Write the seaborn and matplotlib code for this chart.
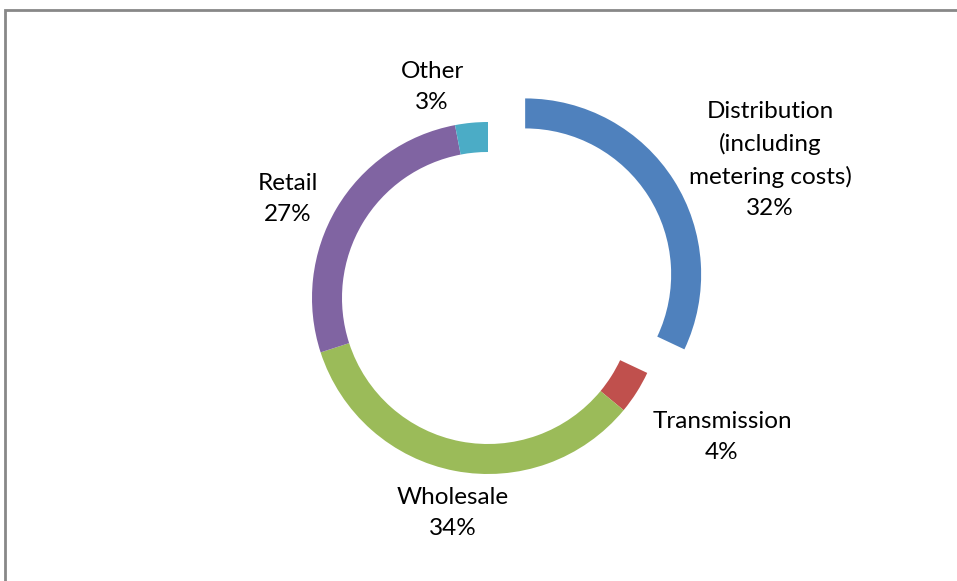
import matplotlib
matplotlib.use("Agg")
import matplotlib.pyplot as plt
import seaborn as sns

# Cost components of the bill, in percent
categories = ["Distribution\n(including\nmetering costs)", "Transmission", "Wholesale", "Retail", "Other"]
shares = [32, 4, 34, 27, 3]
colors = ["#4F81BD", "#C0504D", "#9BBB59", "#8064A2", "#4BACC6"]

sns.set_theme(style="white")
plt.rcParams["font.family"] = ["Lato", "DejaVu Sans"]

W, H = 957, 581
fig = plt.figure(figsize=(W / 100, H / 100), dpi=100)
ax = fig.add_axes([0, 0, 1, 1])

cx, cy, R, ring = 488, H - 298, 176, 30
# the first slice is pulled out from the ring (offset in data units)
explode = [44, 0, 0, 0, 0]
ax.pie(shares, colors=colors, startangle=90, counterclock=False,
       explode=explode, center=(cx, cy), radius=R,
       wedgeprops=dict(width=ring, linewidth=0), frame=True)
ax.set_xlim(0, W)
ax.set_ylim(0, H)
ax.set_aspect("equal")
ax.axis("off")

# Label positions (pixel coordinates, y from top)
label_pos = [(770, 160), (722, 437), (453, 513), (288, 199), (432, 87)]
for name, val, (x, y) in zip(categories, shares, label_pos):
    ax.text(x, H - y, f"{name}\n{val}%", ha="center", va="center",
            fontsize=17.5, color="black", linespacing=1.6)

# Chart-area border
ax.plot([5, 5, W + 5], [0, H - 10, H - 10], color="#888888", lw=2,
        solid_joinstyle="miter", clip_on=False)

fig.savefig("out.png", dpi=100, facecolor="white")
